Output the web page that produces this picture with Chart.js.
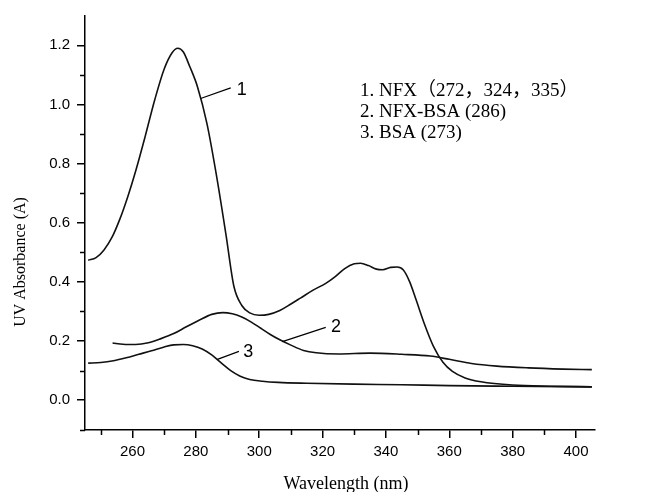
<!DOCTYPE html>
<html>
<head>
<meta charset="utf-8">
<script src="https://cdn.jsdelivr.net/npm/chart.js@4.4.0/dist/chart.umd.min.js"></script>
<style>
html, body { margin: 0; padding: 0; background: #fff; }
</style>
</head>
<body>
<canvas id="chart" width="648" height="492"></canvas>
<script>
// spectra: wavelength (nm) and absorbance
const nfxWavelength = [246, 248.5, 251, 253.5, 256, 258.5, 261, 264, 267, 270, 272.5, 274.3, 276, 278, 280.5, 283.5, 286.5, 289.5, 292, 294.5, 297, 300, 303, 306.5, 310, 313, 317, 321, 324, 327, 330, 332, 334.5, 337, 339, 341.5, 343.5, 345.5, 347.5, 349.5, 352, 355, 358, 361, 365, 370, 380, 392, 405];
const nfxAbsorbance = [0.473, 0.482, 0.508, 0.55, 0.612, 0.688, 0.775, 0.892, 1.015, 1.12, 1.175, 1.19, 1.178, 1.13, 1.06, 0.935, 0.76, 0.56, 0.385, 0.32, 0.295, 0.287, 0.29, 0.303, 0.325, 0.345, 0.372, 0.395, 0.418, 0.445, 0.461, 0.463, 0.455, 0.443, 0.441, 0.449, 0.45, 0.44, 0.4, 0.34, 0.262, 0.182, 0.128, 0.097, 0.075, 0.062, 0.051, 0.047, 0.045];

const nfxBsaWavelength = [253.7, 257, 261, 265, 269, 273, 277, 281, 285, 288.5, 291.5, 294.5, 297.5, 300.5, 303.5, 306.5, 310, 314, 318, 325, 335, 345, 354, 360, 367, 375, 385, 396, 405];
const nfxBsaAbsorbance = [0.193, 0.189, 0.188, 0.194, 0.208, 0.225, 0.248, 0.27, 0.29, 0.296, 0.292, 0.281, 0.264, 0.243, 0.222, 0.204, 0.186, 0.168, 0.16, 0.156, 0.159, 0.155, 0.149, 0.138, 0.124, 0.115, 0.109, 0.105, 0.103];

const bsaWavelength = [246, 250, 254, 258, 262, 266, 270, 273, 276, 279, 282, 285, 288, 291, 294, 297, 301, 306, 315, 330, 345, 360, 380, 405];
const bsaAbsorbance = [0.125, 0.127, 0.133, 0.143, 0.155, 0.167, 0.18, 0.187, 0.188, 0.184, 0.173, 0.153, 0.126, 0.1, 0.081, 0.07, 0.064, 0.06, 0.057, 0.054, 0.052, 0.049, 0.047, 0.045];

const xTicks = [260, 280, 300, 320, 340, 360, 380, 400];
const xMinorTicks = [250, 270, 290, 310, 330, 350, 370, 390];
const yTicks = [0, 0.2, 0.4, 0.6, 0.8, 1.0, 1.2];
const yMinorTicks = [-0.1, 0.1, 0.3, 0.5, 0.7, 0.9, 1.1];

const curveNames = ['1', '2', '3'];
const legendLines = ['1. NFX（272，324，335）', '2. NFX-BSA (286)', '3. BSA (273)'];
const xTitle = 'Wavelength (nm)';
const yTitle = 'UV Absorbance (A)';

function pairs(xs, ys) {
    return xs.map((x, i) => ({ x: x, y: ys[i] }));
}

// leader line from the curve to its number, in data units
const callouts = [
    { from: [281.5, 1.02], to: [291, 1.056], text: [294.5, 1.053] },
    { from: [307.3, 0.198], to: [321, 0.246], text: [324.2, 0.252] },
    { from: [286.8, 0.138], to: [293.6, 0.165], text: [296.5, 0.166] },
];

const extras = {
    id: 'extras',
    afterDraw(chart) {
        const { ctx, chartArea, scales } = chart;
        const x = scales.x, y = scales.y;
        ctx.save();
        ctx.strokeStyle = '#000';
        ctx.lineWidth = 1.5;

        // minor ticks
        ctx.beginPath();
        xMinorTicks.forEach(v => {
            const px = Math.round(x.getPixelForValue(v)) + 0.5;
            ctx.moveTo(px, chartArea.bottom);
            ctx.lineTo(px, chartArea.bottom + 5);
        });
        yMinorTicks.forEach(v => {
            const py = Math.round(y.getPixelForValue(v)) + 0.5;
            ctx.moveTo(chartArea.left - 5, py);
            ctx.lineTo(chartArea.left, py);
        });
        ctx.stroke();

        // curve numbers
        ctx.lineWidth = 1.2;
        ctx.fillStyle = '#000';
        ctx.font = '18px "Liberation Sans", Arial, sans-serif';
        ctx.textAlign = 'center';
        ctx.textBaseline = 'middle';
        callouts.forEach((c, i) => {
            ctx.beginPath();
            ctx.moveTo(x.getPixelForValue(c.from[0]), y.getPixelForValue(c.from[1]));
            ctx.lineTo(x.getPixelForValue(c.to[0]), y.getPixelForValue(c.to[1]));
            ctx.stroke();
            ctx.fillText(curveNames[i], x.getPixelForValue(c.text[0]), y.getPixelForValue(c.text[1]) + 1);
        });

        // legend block
        ctx.font = '19px "Liberation Serif", "Noto Sans CJK SC", serif';
        ctx.textAlign = 'left';
        legendLines.forEach((t, i) => {
            ctx.fillText(t, chartArea.left + 275, chartArea.top + 75 + i * 21);
        });

        // axis titles
        ctx.font = '18px "Liberation Serif", "Times New Roman", serif';
        ctx.textAlign = 'center';
        ctx.fillText(xTitle, (chartArea.left + chartArea.right) / 2 + 6, chartArea.bottom + 54);
        ctx.font = '16px "Liberation Serif", "Times New Roman", serif';
        ctx.translate(chartArea.left - 64, chartArea.top + 246);
        ctx.rotate(-Math.PI / 2);
        ctx.fillText(yTitle, 0, 0);
        ctx.restore();
    }
};

const lineStyle = {
    borderColor: '#111',
    borderWidth: 1.6,
    pointRadius: 0,
    fill: false,
    cubicInterpolationMode: 'monotone',
};

new Chart(document.getElementById('chart').getContext('2d'), {
    type: 'line',
    data: {
        datasets: [
            { label: 'NFX', data: pairs(nfxWavelength, nfxAbsorbance), ...lineStyle },
            { label: 'NFX-BSA', data: pairs(nfxBsaWavelength, nfxBsaAbsorbance), ...lineStyle },
            { label: 'BSA', data: pairs(bsaWavelength, bsaAbsorbance), ...lineStyle },
        ],
    },
    options: {
        responsive: false,
        animation: false,
        devicePixelRatio: 1,
        layout: { padding: { top: 14, right: 53, bottom: 0, left: 0 } },
        plugins: {
            legend: { display: false },
            tooltip: { enabled: false },
        },
        scales: {
            x: {
                type: 'linear',
                position: 'bottom',
                min: 245,
                max: 406,
                grid: { drawOnChartArea: false, tickLength: 8, color: '#000', lineWidth: 1.5 },
                border: { display: true, color: '#000', width: 1.5 },
                ticks: {
                    color: '#000',
                    padding: 5,
                    maxRotation: 0,
                    autoSkip: false,
                    font: { family: '"Liberation Sans", Arial, sans-serif', size: 15 },
                },
                afterBuildTicks: s => { s.ticks = xTicks.map(v => ({ value: v })); },
                afterFit: s => { s.height = 62; },
            },
            y: {
                type: 'linear',
                min: -0.101,
                max: 1.299,
                grid: { drawOnChartArea: false, tickLength: 8, color: '#000', lineWidth: 1.5 },
                border: { display: true, color: '#000', width: 1.5 },
                ticks: {
                    color: '#000',
                    padding: 7,
                    autoSkip: false,
                    font: { family: '"Liberation Sans", Arial, sans-serif', size: 15 },
                    callback: v => v.toFixed(1),
                },
                afterBuildTicks: s => { s.ticks = yTicks.map(v => ({ value: v })); },
                afterFit: s => { s.width = 85; },
            },
        },
    },
    plugins: [extras],
});
</script>
</body>
</html>
